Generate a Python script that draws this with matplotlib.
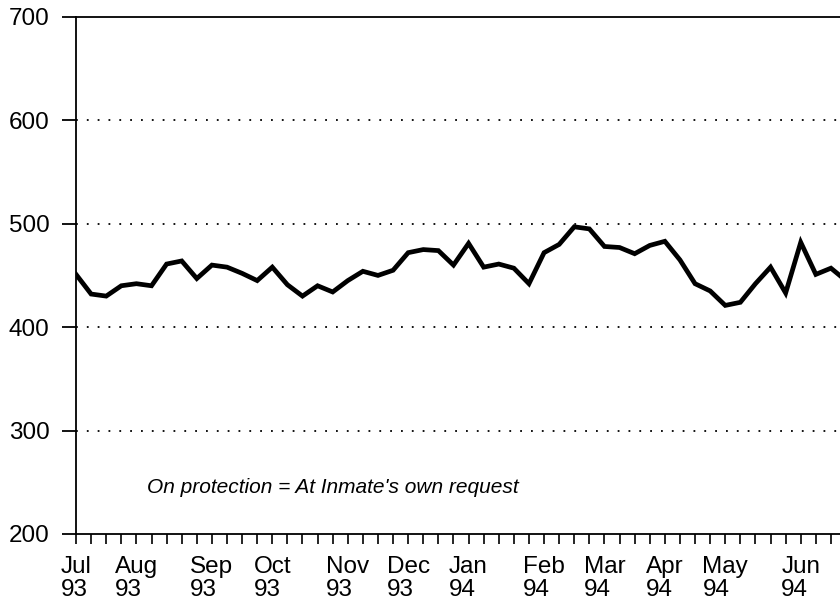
import matplotlib.pyplot as plt

# weekly count of inmates on protection, Jul 93 - Jun 94
weeks = list(range(52))
on_protection = [
    451, 432, 430, 440, 442, 440, 461, 464, 447, 460,
    458, 452, 445, 458, 441, 430, 440, 434, 445, 454,
    450, 455, 472, 475, 474, 460, 481, 458, 461, 457,
    442, 472, 480, 497, 495, 478, 477, 471, 479, 483,
    465, 442, 435, 421, 424, 442, 458, 433, 482, 451,
    457, 445,
]

month_weeks = [0, 4, 9, 13, 18, 22, 26, 31, 35, 39, 43, 48]
month_labels = ['Jul\n93', 'Aug\n93', 'Sep\n93', 'Oct\n93', 'Nov\n93', 'Dec\n93',
                'Jan\n94', 'Feb\n94', 'Mar\n94', 'Apr\n94', 'May\n94', 'Jun\n94']
y_ticks = [200, 300, 400, 500, 600, 700]

plt.rcParams['font.family'] = ['Liberation Sans', 'DejaVu Sans']

fig = plt.figure(figsize=(8.4, 6.04), dpi=100)
ax = fig.add_axes([0.0905, 0.116, 0.9095, 0.856])

ax.plot(weeks, on_protection, color='black', lw=3.4, solid_joinstyle='miter')

ax.set_xlim(0, 50.6)
ax.set_ylim(200, 700)

# dotted guide lines
for y in y_ticks[1:-1]:
    ax.axhline(y, color='black', lw=1.3, linestyle=(0, (1, 5)))

ax.set_yticks(y_ticks)
ax.set_yticklabels([str(v) for v in y_ticks], fontsize=17.5)
ax.tick_params(axis='y', direction='out', length=10, width=1.3, pad=9)

ax.set_xticks(weeks[:51], minor=True)
ax.set_xticks(month_weeks)
ax.set_xticklabels(month_labels, fontsize=17.5, ha='center', multialignment='left',
                   linespacing=1.05)
ax.tick_params(axis='x', which='both', direction='out', length=7, width=1.2, pad=9)

for side in ['left', 'bottom', 'top']:
    ax.spines[side].set_linewidth(1.3)
ax.spines['right'].set_visible(False)

ax.text(4.7, 245, "On protection = At Inmate's own request", fontsize=15,
        style='italic', va='center')

fig.savefig('out.png', dpi=100)
